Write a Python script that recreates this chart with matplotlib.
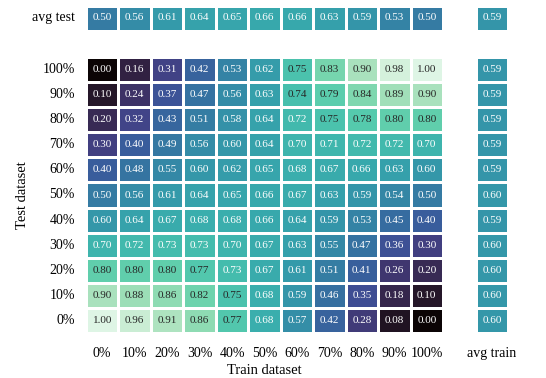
import numpy as np
import matplotlib
matplotlib.use("Agg")
import matplotlib.pyplot as plt
import seaborn as sns

train_labels = ["0%", "10%", "20%", "30%", "40%", "50%", "60%", "70%", "80%", "90%", "100%"]
test_labels = ["100%", "90%", "80%", "70%", "60%", "50%", "40%", "30%", "20%", "10%", "0%"]

scores = [
    [0.00, 0.16, 0.31, 0.42, 0.53, 0.62, 0.75, 0.83, 0.90, 0.98, 1.00],
    [0.10, 0.24, 0.37, 0.47, 0.56, 0.63, 0.74, 0.79, 0.84, 0.89, 0.90],
    [0.20, 0.32, 0.43, 0.51, 0.58, 0.64, 0.72, 0.75, 0.78, 0.80, 0.80],
    [0.30, 0.40, 0.49, 0.56, 0.60, 0.64, 0.70, 0.71, 0.72, 0.72, 0.70],
    [0.40, 0.48, 0.55, 0.60, 0.62, 0.65, 0.68, 0.67, 0.66, 0.63, 0.60],
    [0.50, 0.56, 0.61, 0.64, 0.65, 0.66, 0.67, 0.63, 0.59, 0.54, 0.50],
    [0.60, 0.64, 0.67, 0.68, 0.68, 0.66, 0.64, 0.59, 0.53, 0.45, 0.40],
    [0.70, 0.72, 0.73, 0.73, 0.70, 0.67, 0.63, 0.55, 0.47, 0.36, 0.30],
    [0.80, 0.80, 0.80, 0.77, 0.73, 0.67, 0.61, 0.51, 0.41, 0.26, 0.20],
    [0.90, 0.88, 0.86, 0.82, 0.75, 0.68, 0.59, 0.46, 0.35, 0.18, 0.10],
    [1.00, 0.96, 0.91, 0.86, 0.77, 0.68, 0.57, 0.42, 0.28, 0.08, 0.00],
]
avg_test = [0.50, 0.56, 0.61, 0.64, 0.65, 0.66, 0.66, 0.63, 0.59, 0.53, 0.50]
avg_train = [0.59, 0.59, 0.59, 0.59, 0.59, 0.60, 0.59, 0.60, 0.60, 0.60, 0.60]
avg_all = 0.59

plt.rcParams["font.family"] = ["Liberation Serif", "DejaVu Serif"]

fig = plt.figure(figsize=(5.46, 3.78), dpi=100)
W, H = 546, 378

def box(x0, y0, x1, y1):
    return [x0 / W, 1 - y1 / H, (x1 - x0) / W, (y1 - y0) / H]

main_x0, main_x1 = 86, 443
side_x0, side_x1 = 476, 508
top_y0, top_y1 = 5.5, 30.5
main_y0, main_y1 = 57, 333

ax_main = fig.add_axes(box(main_x0, main_y0, main_x1, main_y1))
ax_top = fig.add_axes(box(main_x0, top_y0, main_x1, top_y1))
ax_side = fig.add_axes(box(side_x0, main_y0, side_x1, main_y1))
ax_corner = fig.add_axes(box(side_x0, top_y0, side_x1, top_y1))

kw = dict(cmap="mako", vmin=0, vmax=1, annot=True, fmt=".2f", cbar=False,
          linewidths=0.75, linecolor="white", annot_kws={"size": 8})

sns.heatmap(np.array(scores), ax=ax_main, xticklabels=train_labels,
            yticklabels=test_labels, **kw)
sns.heatmap(np.array([avg_test]), ax=ax_top, xticklabels=False,
            yticklabels=["avg test"], **kw)
sns.heatmap(np.array(avg_train).reshape(-1, 1), ax=ax_side,
            xticklabels=["avg train"], yticklabels=False, **kw)
sns.heatmap(np.array([[avg_all]]), ax=ax_corner, xticklabels=False,
            yticklabels=False, **kw)

for ax in (ax_main, ax_top, ax_side, ax_corner):
    ax.tick_params(length=0, labelsize=10, pad=8)
    ax.tick_params(axis="x", pad=10)
    for t in ax.get_yticklabels():
        t.set_rotation(0)
    for t in ax.get_xticklabels():
        t.set_rotation(0)

ax_main.set_xlabel("Train dataset", fontsize=10.5, labelpad=3)
ax_main.set_ylabel("Test dataset", fontsize=10.5, labelpad=10)

fig.savefig("out.png", dpi=100)
